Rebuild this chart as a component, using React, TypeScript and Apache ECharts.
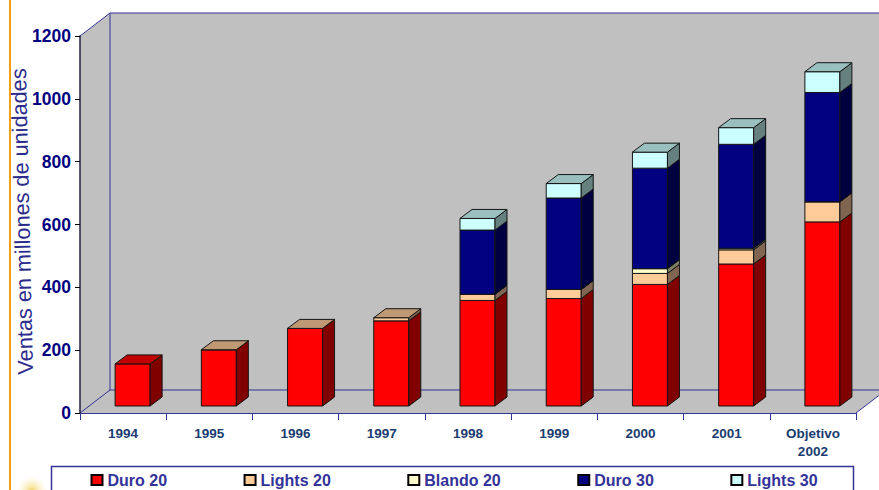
import React, { useEffect, useRef } from "react";
import * as echarts from "echarts";

const years = ["1994", "1995", "1996", "1997", "1998", "1999", "2000", "2001", "Objetivo\n2002"];

// Sales per segment, millions of units; null means the segment did not exist that year.
const duro20 = [134, 179, 247, 271, 336, 342, 387, 452, 586];
const lights20 = [null, 0, 0, 10, 20, 29, 35, 45, 64];
const blando20 = [null, null, null, null, 0, 0, 15, 5, 0];
const duro30 = [null, null, null, null, 204, 291, 320, 331, 348];
const lights30 = [null, null, null, null, 37, 46, 51, 53, 66];

const seriesNames = ["Duro 20", "Lights 20", "Blando 20", "Duro 30", "Lights 30"];
const seriesValues = [duro20, lights20, blando20, duro30, lights30];
const frontColors = ["#FF0000", "#FFCC99", "#FFFFCC", "#000080", "#CCFFFF"];
const topColors = ["#C00000", "#BF9973", "#BFBF99", "#000060", "#99BFBF"];
const sideColors = ["#800000", "#806650", "#808066", "#000040", "#668080"];

const valueTitle = "Ventas en millones de unidades";

// Plot frame in page pixels.
const LEFT = 80;
const RIGHT = 856;
const TOP = 36;
const BOTTOM = 413;
const DEPTH_X = 30;
const DEPTH_Y = 23;
const WIDTH = 879;
const HEIGHT = 490;

// Bar placement relative to the centre of its category band.
const BAR_LEFT = -8;
const BAR_WIDTH = 35;
const BAR_LIFT = 7;
const BAR_DEPTH_X = 12;
const BAR_DEPTH_Y = 9;
const EDGE = "#141414";

function buildSeries() {
  const running = years.map(() => 0);
  const lastFilled = years.map((_, c) => {
    let last = -1;
    seriesValues.forEach((values, s) => {
      if (values[c] !== null) last = s;
    });
    return last;
  });
  return seriesValues.map((values, s) => {
    const data: (number | null)[][] = [];
    values.forEach((v, c) => {
      if (v === null) return;
      data.push([c, running[c], running[c] + v, lastFilled[c] === s ? 1 : 0]);
      running[c] += v;
    });
    return {
      type: "custom" as const,
      name: seriesNames[s],
      z: 2,
      silent: true,
      clip: false,
      encode: { x: 0, y: [1, 2] },
      itemStyle: { color: frontColors[s], borderColor: "#000000", borderWidth: 1 },
      data,
      renderItem: (_: unknown, api: any) => {
        const low = api.coord([api.value(0), api.value(1)]);
        const high = api.coord([api.value(0), api.value(2)]);
        const x0 = low[0] + BAR_LEFT;
        const x1 = x0 + BAR_WIDTH;
        const y0 = low[1] - BAR_LIFT;
        const y1 = high[1] - BAR_LIFT;
        const dx = BAR_DEPTH_X;
        const dy = BAR_DEPTH_Y;
        const face = (points: number[][], fill: string) => ({
          type: "polygon",
          shape: { points },
          style: { fill, stroke: EDGE, lineWidth: 1 },
        });
        const children = [
          face([[x0, y1], [x1, y1], [x1, y0], [x0, y0]], frontColors[s]),
          face([[x1, y1], [x1 + dx, y1 - dy], [x1 + dx, y0 - dy], [x1, y0]], sideColors[s]),
        ];
        if (api.value(3) === 1) {
          children.push(face([[x0, y1], [x0 + dx, y1 - dy], [x1 + dx, y1 - dy], [x1, y1]], topColors[s]));
        }
        return { type: "group", children };
      },
    };
  });
}

function wallGraphics() {
  const line = (x1: number, y1: number, x2: number, y2: number) => ({
    type: "line",
    z: 0,
    silent: true,
    shape: { x1, y1, x2, y2 },
    style: { stroke: "#333399", lineWidth: 1 },
  });
  const backLeft = LEFT + DEPTH_X;
  const backRight = RIGHT + DEPTH_X;
  const backTop = TOP - DEPTH_Y;
  const backBottom = BOTTOM - DEPTH_Y;
  return [
    {
      type: "polygon",
      z: 0,
      silent: true,
      shape: {
        points: [
          [LEFT, TOP],
          [backLeft, backTop],
          [WIDTH, backTop],
          [WIDTH, backBottom + (backRight - WIDTH) * (DEPTH_Y / DEPTH_X)],
          [RIGHT, BOTTOM],
          [LEFT, BOTTOM],
        ],
      },
      style: { fill: "#C0C0C0" },
    },
    line(backLeft, backTop, WIDTH, backTop),
    line(LEFT, TOP, backLeft, backTop),
    line(backLeft, backTop, backLeft, backBottom),
    line(backLeft, backBottom, WIDTH, backBottom),
    line(LEFT, BOTTOM, backLeft, backBottom),
    line(RIGHT, BOTTOM, WIDTH, backBottom + (backRight - WIDTH) * (DEPTH_Y / DEPTH_X)),
    // Orange slide rule on the far left.
    {
      type: "line",
      z: 0,
      silent: true,
      shape: { x1: 10, y1: 0, x2: 10, y2: HEIGHT },
      style: { stroke: "#F0A010", lineWidth: 2 },
    },
    // Pale sun peeking in at the bottom-left corner.
    {
      type: "circle",
      z: 0,
      silent: true,
      shape: { cx: 32, cy: 491, r: 16 },
      style: {
        fill: {
          type: "radial",
          x: 0.5,
          y: 0.5,
          r: 0.5,
          colorStops: [
            { offset: 0, color: "rgba(240,205,90,0.9)" },
            { offset: 1, color: "rgba(255,245,210,0)" },
          ],
        },
      },
    },
    // Legend frame.
    {
      type: "rect",
      z: 0,
      silent: true,
      shape: { x: 51.5, y: 466.5, width: 802, height: 30 },
      style: { fill: "#FFFFFF", stroke: "#333399", lineWidth: 1.5 },
    },
    // Value-axis title, set very slightly off vertical.
    {
      type: "text",
      z: 1,
      silent: true,
      x: 22,
      y: 221.5,
      rotation: (91.3 * Math.PI) / 180,
      style: {
        text: valueTitle,
        align: "center",
        verticalAlign: "middle",
        fontFamily: "Liberation Sans",
        fontSize: 21.7,
        fill: "#2B2B8C",
      },
    },
  ];
}

export default function App() {
  const ref = useRef<HTMLDivElement>(null);

  useEffect(() => {
    if (!ref.current) return;
    const chart = echarts.init(ref.current, undefined, { renderer: "svg" });
    chart.setOption({
      animation: false,
      backgroundColor: "#FFFFFF",
      textStyle: { fontFamily: "Liberation Sans" },
      grid: {
        left: LEFT,
        right: WIDTH - RIGHT,
        top: TOP,
        bottom: HEIGHT - BOTTOM,
        containLabel: false,
        outerBoundsMode: "none",
      },
      graphic: wallGraphics(),
      legend: {
        show: true,
        left: 90.5,
        top: 472,
        padding: 0,
        itemWidth: 11,
        itemHeight: 10,
        itemGap: 76.5,
        selectedMode: false,
        icon: "rect",
        data: seriesNames,
        textStyle: {
          fontFamily: "Liberation Sans",
          fontWeight: "bold",
          fontSize: 16,
          color: "#333399",
        },
      },
      xAxis: {
        type: "category",
        data: years,
        z: 1,
        boundaryGap: true,
        axisLine: { lineStyle: { color: "#333399", width: 1 } },
        axisTick: { show: true, alignWithLabel: false, length: 7, lineStyle: { color: "#333399" } },
        axisLabel: {
          interval: 0,
          margin: 11,
          fontFamily: "Liberation Sans",
          fontWeight: "bold",
          fontSize: 13.5,
          lineHeight: 18,
          color: "#1A3C70",
        },
        splitLine: { show: false },
      },
      yAxis: {
        type: "value",
        min: 0,
        max: 1200,
        interval: 200,
        z: 1,
        axisLine: { show: true, lineStyle: { color: "#202040", width: 1.5 } },
        axisTick: { show: true, length: 5, lineStyle: { color: "#000000" } },
        axisLabel: {
          margin: 9,
          padding: [2, 0, 0, 0],
          formatter: (v: number) => String(v),
          fontFamily: "Liberation Sans",
          fontWeight: "bold",
          fontSize: 17.5,
          color: "#000080",
        },
        splitLine: { show: false },
      },
      series: buildSeries(),
    });
    return () => chart.dispose();
  }, []);

  return (
    <div
      ref={ref}
      style={{ position: "absolute", left: 0, top: 0, width: WIDTH, height: HEIGHT, overflow: "hidden" }}
    />
  );
}
